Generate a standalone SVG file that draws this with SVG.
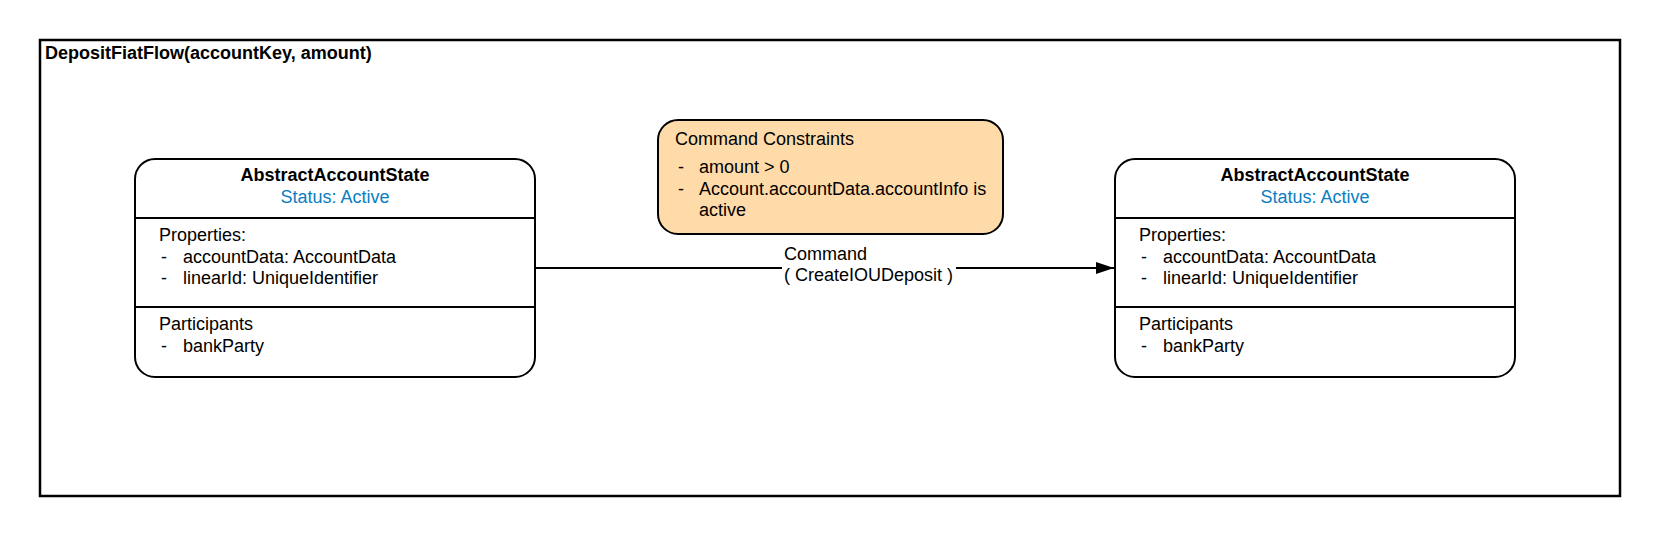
<svg xmlns="http://www.w3.org/2000/svg" width="1660" height="536" viewBox="0 0 1660 536">
<defs>
<style>
text{font-family:"Liberation Sans",Arial,sans-serif;font-size:18px;fill:#000}
.b{font-weight:bold}
.c{text-anchor:middle}
.st{fill:#0b7dc1}
.box{fill:#fff;stroke:#000;stroke-width:2}
.div{stroke:#000;stroke-width:2}
</style>
<marker id="arr" markerUnits="userSpaceOnUse" markerWidth="19" markerHeight="13" refX="18" refY="6" orient="auto">
<path d="M0,0 L18,6 L0,12 z" fill="#000"/>
</marker>
</defs>
<rect width="1660" height="536" fill="#fff"/>
<g id="frame">
<rect x="40" y="40" width="1580" height="456" fill="none" stroke="#000" stroke-width="2.5"/>
<text class="b" x="45" y="59">DepositFiatFlow(accountKey, amount)</text>
</g>
<g id="connectors">
<line x1="535" y1="268" x2="1114" y2="268" stroke="#000" stroke-width="2" marker-end="url(#arr)"/>
<rect x="782" y="252" width="174" height="32" fill="#fff"/>
<text x="784" y="260">Command</text>
<text x="784" y="281">( CreateIOUDeposit )</text>
</g>
<g id="state-left">
<rect class="box" x="135" y="159" width="400" height="218" rx="20"/>
<line class="div" x1="135" y1="218" x2="535" y2="218"/>
<line class="div" x1="135" y1="307" x2="535" y2="307"/>
<text class="b c" x="335" y="181">AbstractAccountState</text>
<text class="c st" x="335" y="203">Status: Active</text>
<text x="159" y="241">Properties:</text>
<text x="161" y="262.5">-</text><text x="183" y="262.5">accountData: AccountData</text>
<text x="161" y="284">-</text><text x="183" y="284">linearId: UniqueIdentifier</text>
<text x="159" y="330">Participants</text>
<text x="161" y="351.5">-</text><text x="183" y="351.5">bankParty</text>
</g>
<g id="constraints">
<rect x="658" y="120" width="345" height="114" rx="20" fill="#ffdba9" stroke="#000" stroke-width="2"/>
<text x="675" y="145">Command Constraints</text>
<text x="678" y="173">-</text><text x="699" y="173">amount &gt; 0</text>
<text x="678" y="195">-</text><text x="699" y="195">Account.accountData.accountInfo is</text>
<text x="699" y="216">active</text>
</g>
<g id="state-right">
<rect class="box" x="1115" y="159" width="400" height="218" rx="20"/>
<line class="div" x1="1115" y1="218" x2="1515" y2="218"/>
<line class="div" x1="1115" y1="307" x2="1515" y2="307"/>
<text class="b c" x="1315" y="181">AbstractAccountState</text>
<text class="c st" x="1315" y="203">Status: Active</text>
<text x="1139" y="241">Properties:</text>
<text x="1141" y="262.5">-</text><text x="1163" y="262.5">accountData: AccountData</text>
<text x="1141" y="284">-</text><text x="1163" y="284">linearId: UniqueIdentifier</text>
<text x="1139" y="330">Participants</text>
<text x="1141" y="351.5">-</text><text x="1163" y="351.5">bankParty</text>
</g>
</svg>
